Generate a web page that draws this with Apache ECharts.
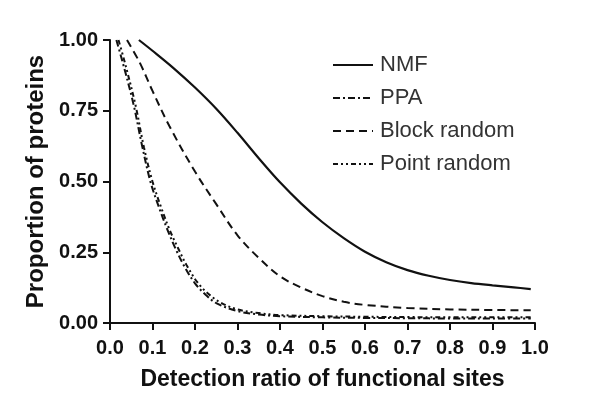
<!DOCTYPE html>
<html>
<head>
<meta charset="utf-8">
<script src="https://cdn.jsdelivr.net/npm/echarts@6/dist/echarts.min.js"></script>
<style>
html, body { margin: 0; padding: 0; background: #fff; }
#chart { width: 600px; height: 415px; }
</style>
</head>
<body>
<div id="chart"></div>
<script>
// values
const seriesNames = ['NMF', 'PPA', 'Block random', 'Point random'];
const xTicks = ['0.0', '0.1', '0.2', '0.3', '0.4', '0.5', '0.6', '0.7', '0.8', '0.9', '1.0'];

const nmfX = [0.068, 0.1, 0.15, 0.2, 0.25, 0.3, 0.35, 0.4, 0.45, 0.5, 0.55, 0.6, 0.65, 0.7, 0.75, 0.8, 0.85, 0.9, 0.95, 0.99];
const nmfY = [1.0, 0.962, 0.9, 0.832, 0.757, 0.672, 0.582, 0.497, 0.422, 0.356, 0.3, 0.252, 0.215, 0.187, 0.167, 0.152, 0.141, 0.133, 0.126, 0.12];

const ppaX = [0.015, 0.03, 0.055, 0.075, 0.095, 0.115, 0.135, 0.155, 0.175, 0.2, 0.225, 0.25, 0.3, 0.35, 0.4, 0.5, 0.6, 0.7, 0.8, 0.9, 0.99];
const ppaY = [1.0, 0.92, 0.775, 0.63, 0.5, 0.41, 0.33, 0.26, 0.2, 0.14, 0.1, 0.07, 0.042, 0.03, 0.024, 0.02, 0.018, 0.017, 0.016, 0.016, 0.016];

const blockX = [0.04, 0.07, 0.1, 0.14, 0.2, 0.25, 0.3, 0.35, 0.4, 0.45, 0.5, 0.55, 0.6, 0.7, 0.8, 0.9, 0.99];
const blockY = [1.0, 0.92, 0.82, 0.695, 0.535, 0.42, 0.31, 0.23, 0.165, 0.125, 0.095, 0.075, 0.064, 0.053, 0.048, 0.046, 0.045];

const pointX = [0.02, 0.035, 0.06, 0.08, 0.1, 0.12, 0.14, 0.16, 0.18, 0.205, 0.23, 0.26, 0.3, 0.35, 0.4, 0.5, 0.6, 0.7, 0.8, 0.9, 0.99];
const pointY = [1.0, 0.92, 0.77, 0.62, 0.5, 0.41, 0.33, 0.265, 0.205, 0.145, 0.105, 0.072, 0.048, 0.035, 0.028, 0.024, 0.022, 0.021, 0.02, 0.02, 0.02];

function pairs(xs, ys) {
    return xs.map(function (x, i) { return [x, ys[i]]; });
}

const lineTypes = ['solid', [7, 3, 2, 3], [8, 5], [5, 3, 2, 3, 2, 3]];
const allData = [pairs(nmfX, nmfY), pairs(ppaX, ppaY), pairs(blockX, blockY), pairs(pointX, pointY)];

const myChart = echarts.init(document.getElementById('chart'), null, { renderer: 'canvas' });

const option = {
    backgroundColor: '#fff',
    textStyle: { fontFamily: 'Liberation Sans, Arial, sans-serif' },
    animation: false,
    color: ['#111', '#111', '#111', '#111'],
    legend: {
        orient: 'vertical',
        left: 327,
        top: 49,
        itemWidth: 40,
        itemHeight: 14,
        itemGap: 11,
        data: seriesNames,
        // hide the marker dot, keep only the line sample
        itemStyle: { opacity: 0 },
        textStyle: { color: '#333', fontSize: 22, padding: [0, 0, 0, 2] }
    },
    grid: {
        left: 110,
        right: 65,
        top: 40,
        bottom: 92
    },
    xAxis: {
        type: 'value',
        min: 0,
        max: 1,
        interval: 0.1,
        name: 'Detection ratio of functional sites',
        nameLocation: 'middle',
        nameGap: 45,
        nameTextStyle: { color: '#111', fontSize: 23, fontWeight: 'bold' },
        axisLine: { lineStyle: { color: '#111', width: 2 } },
        axisTick: { show: true, length: 7, inside: false, lineStyle: { color: '#111', width: 2 } },
        axisLabel: {
            color: '#111', fontSize: 20, fontWeight: 'bold', margin: 15,
            formatter: function (v) { return xTicks[Math.round(v * 10)]; }
        },
        splitLine: { show: false }
    },
    yAxis: {
        type: 'value',
        min: 0,
        max: 1,
        interval: 0.25,
        name: 'Proportion of proteins',
        nameLocation: 'middle',
        nameGap: 62,
        nameTextStyle: { color: '#111', fontSize: 24, fontWeight: 'bold' },
        axisLine: { show: true, lineStyle: { color: '#111', width: 2 } },
        axisTick: { show: true, length: 7, lineStyle: { color: '#111', width: 2 } },
        axisLabel: {
            color: '#111', fontSize: 20, fontWeight: 'bold', margin: 12,
            formatter: function (v) { return v.toFixed(2); }
        },
        splitLine: { show: false }
    },
    series: seriesNames.map(function (name, i) {
        return {
            name: name,
            type: 'line',
            smooth: 0.35,
            showSymbol: false,
            symbol: 'none',
            data: allData[i],
            lineStyle: { color: '#111', width: i === 0 ? 2.2 : 2, type: lineTypes[i] }
        };
    })
};

myChart.setOption(option);
</script>
</body>
</html>
